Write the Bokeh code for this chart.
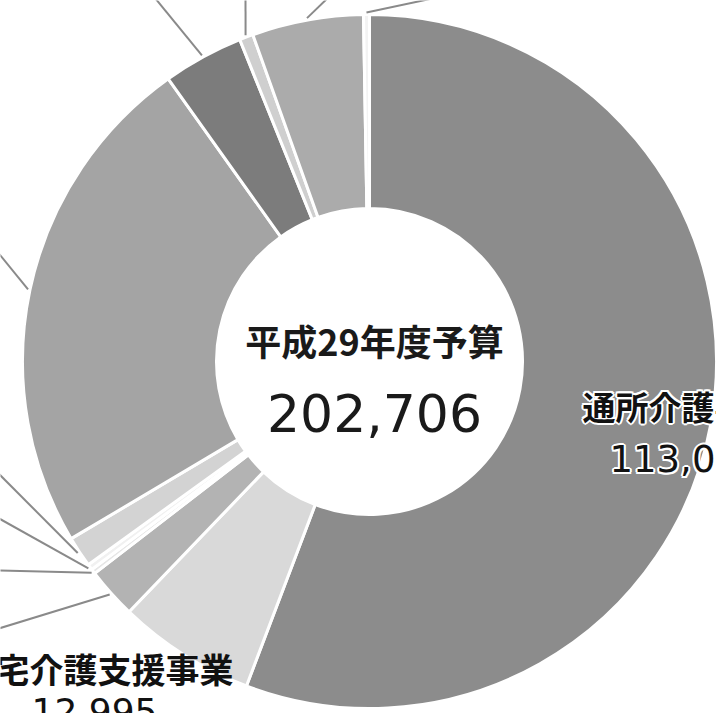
import math
from bokeh.plotting import figure
from bokeh.models import Range1d, ColumnDataSource
from bokeh.embed import file_html
from bokeh.resources import INLINE
from bokeh.core.properties import value

# ---- data ----
categories = ["通所介護事業", "居宅介護支援事業", "項目C", "項目D", "項目E", "項目F",
              "項目G", "項目H", "項目I", "項目J", "項目K"]
budget = [113048, 12995, 4800, 450, 550, 2900, 48003, 7600, 1300, 10500, 560]
colors = ["#8c8c8c", "#d9d9d9", "#b3b3b3", "#e6e6e6", "#f1f1f1", "#d3d3d3",
          "#a4a4a4", "#7c7c7c", "#cfcfcf", "#ababab", "#f3f3f3"]
center_title = "平成29年度予算"
center_total = "202,706"
label_main = "通所介護事業"
label_main_value = "113,048"
label_second = "居宅介護支援事業"
label_second_value = "12,995"

# ---- layout (reference pixel coords, y measured downward) ----
W, H = 716, 713
cx, cy_ref = 369, 361
R_OUT, R_IN = 347, 153
cy = H - cy_ref

total = sum(budget)
starts, ends, mids = [], [], []
acc = 0.0
for v in budget:
    a0 = acc / total * 2 * math.pi
    acc += v
    a1 = acc / total * 2 * math.pi
    starts.append(math.pi / 2 - a0)
    ends.append(math.pi / 2 - a1)
    mids.append(math.pi / 2 - (a0 + a1) / 2)

src = ColumnDataSource(dict(cat=categories, val=budget, color=colors,
                            start=starts, end=ends))

p = figure(width=W, height=H, x_range=Range1d(0, W), y_range=Range1d(0, H),
           output_backend="svg", toolbar_location=None,
           x_axis_type=None, y_axis_type=None, min_border=0,
           outline_line_color=None, background_fill_color="white")
p.grid.visible = False

p.annular_wedge(x=cx, y=cy, inner_radius=R_IN, outer_radius=R_OUT,
                start_angle="start", end_angle="end", direction="clock",
                fill_color="color", line_color="white", line_width=3, source=src)

# leader lines for segments whose labels lie outside the frame
leader_idx = [2, 3, 4, 5, 6, 7, 8, 9, 10]
leader_end_ref = [(-5, 629), (-5, 570), (-5, 516), (-5, 470), (-5, 249),
                  (150, -8), (245, -8), (333, -8), (460, -8)]
xs, ys = [], []
for i, (ex, ey) in zip(leader_idx, leader_end_ref):
    sx = cx + (R_OUT + 2) * math.cos(mids[i])
    sy = cy + (R_OUT + 2) * math.sin(mids[i])
    xs.append([sx, ex])
    ys.append([sy, H - ey])
p.multi_line(xs=xs, ys=ys, line_color="#8a8a8a", line_width=2)

jp = value("Noto Sans CJK JP")
num = value("DejaVu Sans")


def halo_text(x, y, txt, font, size, style="normal", align="left"):
    for dx, dy in [(-2, 0), (2, 0), (0, -2), (0, 2), (-1.5, -1.5), (1.5, 1.5),
                   (-1.5, 1.5), (1.5, -1.5)]:
        p.text(x=[x], y=[y], text=[txt], text_font=font, text_font_size=size,
               text_font_style=style, text_align=align, text_baseline="middle",
               text_color="white", x_offset=dx, y_offset=dy)
    p.text(x=[x], y=[y], text=[txt], text_font=font, text_font_size=size,
           text_font_style=style, text_align=align, text_baseline="middle",
           text_color="#111111")


# center
p.text(x=[374], y=[H - 339], text=[center_title], text_font=jp, text_font_size="36px",
       text_font_style="bold", text_align="center", text_baseline="middle",
       text_color="#1a1a1a")
p.text(x=[374], y=[H - 412], text=[center_total], text_font=num, text_font_size="52px",
       text_align="center", text_baseline="middle", text_color="#1a1a1a")

# main label (partly outside)
halo_text(582, H - 405, label_main, jp, "33px", "bold")
halo_text(609, H - 458, label_main_value, num, "37px")

# second label (partly outside)
p.text(x=[97], y=[H - 668], text=[label_second], text_font=jp, text_font_size="34px",
       text_font_style="bold", text_align="center", text_baseline="middle",
       text_color="#111111")
p.text(x=[94], y=[H - 710], text=[label_second_value], text_font=num, text_font_size="36px",
       text_align="center", text_baseline="middle", text_color="#111111")

open("out.html", "w").write(file_html(p, INLINE))
